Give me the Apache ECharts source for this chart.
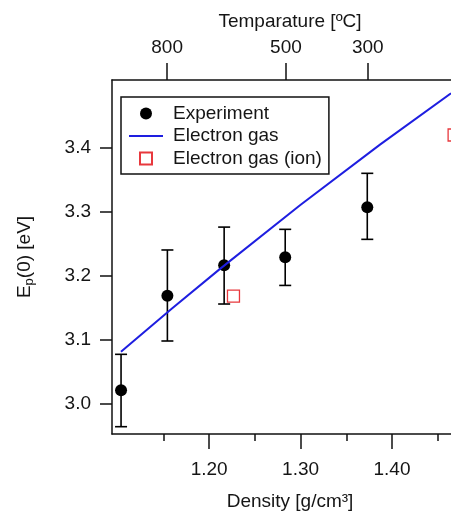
<!DOCTYPE html>
<html>
<head>
<meta charset="utf-8">
<script src="https://cdn.jsdelivr.net/npm/echarts@6/dist/echarts.min.js"></script>
<style>
  html, body { margin: 0; padding: 0; background: #fff; overflow: hidden; }
  #chart { width: 451px; height: 513px; }
</style>
</head>
<body>
<div id="chart"></div>
<script>
// ---- data ----
const expDensity = [1.1036, 1.1543, 1.2164, 1.2832, 1.3730];
const expEnergy  = [3.0214, 3.1690, 3.2164, 3.2289, 3.3069];
const expLow     = [2.9646, 3.0983, 3.1560, 3.1850, 3.2569];
const expHigh    = [3.0775, 3.2403, 3.2760, 3.2725, 3.3599];

const gasDensity = [1.1035, 1.1593, 1.2119, 1.2994, 1.3869, 1.4646];
const gasEnergy  = [3.0816, 3.1490, 3.2108, 3.3100, 3.4047, 3.4847];

const ionDensity = [1.2266, 1.4680];
const ionEnergy  = [3.1682, 3.4197];

const densityMajorTicks = [1.20, 1.30, 1.40];
const densityMinorTicks = [1.15, 1.25, 1.35, 1.45];
const energyTicks = [3.0, 3.1, 3.2, 3.3, 3.4];
const tempLabels  = [800, 500, 300];
const tempDensity = [1.154, 1.284, 1.3735];

// ---- axis ranges ----
const X_MIN = 1.0937, X_MAX = 1.4832;
const Y_MIN = 2.9532, Y_MAX = 3.5055;

const FONT = "'Liberation Sans', Arial, sans-serif";
const TXT = '#151515';
const AX = '#111';
const BLUE = '#1e1ee0';

const lineStyle = { color: AX, width: 1.5 };

const chart = echarts.init(document.getElementById('chart'), null, { renderer: 'canvas' });

const option = {
  animation: false,
  backgroundColor: '#fff',
  grid: { left: 112, top: 80, width: 356, height: 354, containLabel: false, outerBoundsMode: 'none' },
  legend: {
    orient: 'vertical',
    left: 121,
    top: 97,
    padding: [7, 7, 6, 8],
    itemWidth: 34,
    itemHeight: 12,
    itemGap: 3.5,
    borderColor: AX,
    borderWidth: 1.5,
    symbolKeepAspect: true,
    textStyle: { fontSize: 19, fontFamily: FONT, color: TXT, padding: [0, 0, 0, 5] },
    data: [
      { name: 'Experiment', icon: 'circle' },
      { name: 'Electron gas', icon: 'path://M0,0H34V2H0Z' },
      { name: 'Electron gas (ion)', icon: 'path://M0,0H12V12H0Z' }
    ]
  },
  xAxis: [
    {
      type: 'value', position: 'bottom', min: X_MIN, max: X_MAX,
      axisLine: { show: true, lineStyle },
      axisTick: { show: true, length: 15, customValues: densityMajorTicks, lineStyle },
      axisLabel: { customValues: densityMajorTicks, formatter: v => v.toFixed(2), margin: 26,
                   fontSize: 19, fontFamily: FONT, color: TXT },
      splitLine: { show: false },
      name: 'Density [g/cm³]', nameLocation: 'middle', nameGap: 58,
      nameTextStyle: { fontSize: 19, fontFamily: FONT, color: TXT }
    },
    {
      type: 'value', position: 'top', min: X_MIN, max: X_MAX,
      axisLine: { show: true, lineStyle },
      axisTick: { show: true, length: 17, customValues: tempDensity, lineStyle },
      axisLabel: {
        customValues: tempDensity, margin: 22.5, fontSize: 19, fontFamily: FONT, color: TXT,
        formatter: v => {
          let best = 0;
          tempDensity.forEach((d, i) => { if (Math.abs(d - v) < Math.abs(tempDensity[best] - v)) best = i; });
          return String(tempLabels[best]);
        }
      },
      splitLine: { show: false },
      name: 'Temparature [ºC]', nameLocation: 'middle', nameGap: 49,
      nameTextStyle: { fontSize: 19, fontFamily: FONT, color: TXT }
    },
    {
      type: 'value', position: 'bottom', min: X_MIN, max: X_MAX,
      axisLine: { show: false },
      axisTick: { show: true, length: 7, customValues: densityMinorTicks, lineStyle },
      axisLabel: { show: false },
      splitLine: { show: false }
    }
  ],
  yAxis: {
    type: 'value', position: 'left', min: Y_MIN, max: Y_MAX,
    axisLine: { show: true, lineStyle },
    axisTick: { show: true, length: 12, customValues: energyTicks, lineStyle },
    axisLabel: { customValues: energyTicks, formatter: v => v.toFixed(1), margin: 21,
                 fontSize: 19, fontFamily: FONT, color: TXT },
    splitLine: { show: false },
    name: '{a|E}{s|p}{a|(0) [eV]}', nameLocation: 'middle', nameGap: 76, nameRotate: 90,
    nameTextStyle: {
      fontSize: 19, fontFamily: FONT, color: TXT,
      rich: {
        a: { fontSize: 19, fontFamily: FONT, color: TXT },
        s: { fontSize: 13, fontFamily: FONT, color: TXT, padding: [9, 0, 0, 0] }
      }
    }
  },
  series: [
    {
      name: 'errorbars', type: 'custom', xAxisIndex: 0, yAxisIndex: 0, z: 2, silent: true,
      data: expDensity.map((d, i) => [d, expLow[i], expHigh[i]]),
      encode: { x: 0, y: [1, 2] },
      renderItem: (params, api) => {
        const x = api.value(0);
        const lo = api.coord([x, api.value(1)]);
        const hi = api.coord([x, api.value(2)]);
        const w = 6;
        const st = { stroke: '#000', lineWidth: 1.6 };
        return {
          type: 'group',
          children: [
            { type: 'line', shape: { x1: lo[0], y1: lo[1], x2: hi[0], y2: hi[1] }, style: st },
            { type: 'line', shape: { x1: lo[0] - w, y1: lo[1], x2: lo[0] + w, y2: lo[1] }, style: st },
            { type: 'line', shape: { x1: hi[0] - w, y1: hi[1], x2: hi[0] + w, y2: hi[1] }, style: st }
          ]
        };
      }
    },
    {
      name: 'Experiment', type: 'scatter', xAxisIndex: 0, yAxisIndex: 0, z: 3,
      symbol: 'circle', symbolSize: 12,
      itemStyle: { color: '#000', opacity: 1 },
      data: expDensity.map((d, i) => [d, expEnergy[i]])
    },
    {
      name: 'Electron gas', type: 'line', xAxisIndex: 0, yAxisIndex: 0, z: 4,
      symbol: 'none', showSymbol: false,
      lineStyle: { color: BLUE, width: 2 },
      itemStyle: { color: BLUE },
      data: gasDensity.map((d, i) => [d, gasEnergy[i]])
    },
    {
      name: 'Electron gas (ion)', type: 'scatter', xAxisIndex: 0, yAxisIndex: 0, z: 5,
      symbol: 'rect', symbolSize: 12,
      itemStyle: { color: 'rgba(255,255,255,0)', borderColor: '#e8383d', borderWidth: 1.3, opacity: 1 },
      data: ionDensity.map((d, i) => [d, ionEnergy[i]])
    }
  ]
};

chart.setOption(option);
</script>
</body>
</html>
